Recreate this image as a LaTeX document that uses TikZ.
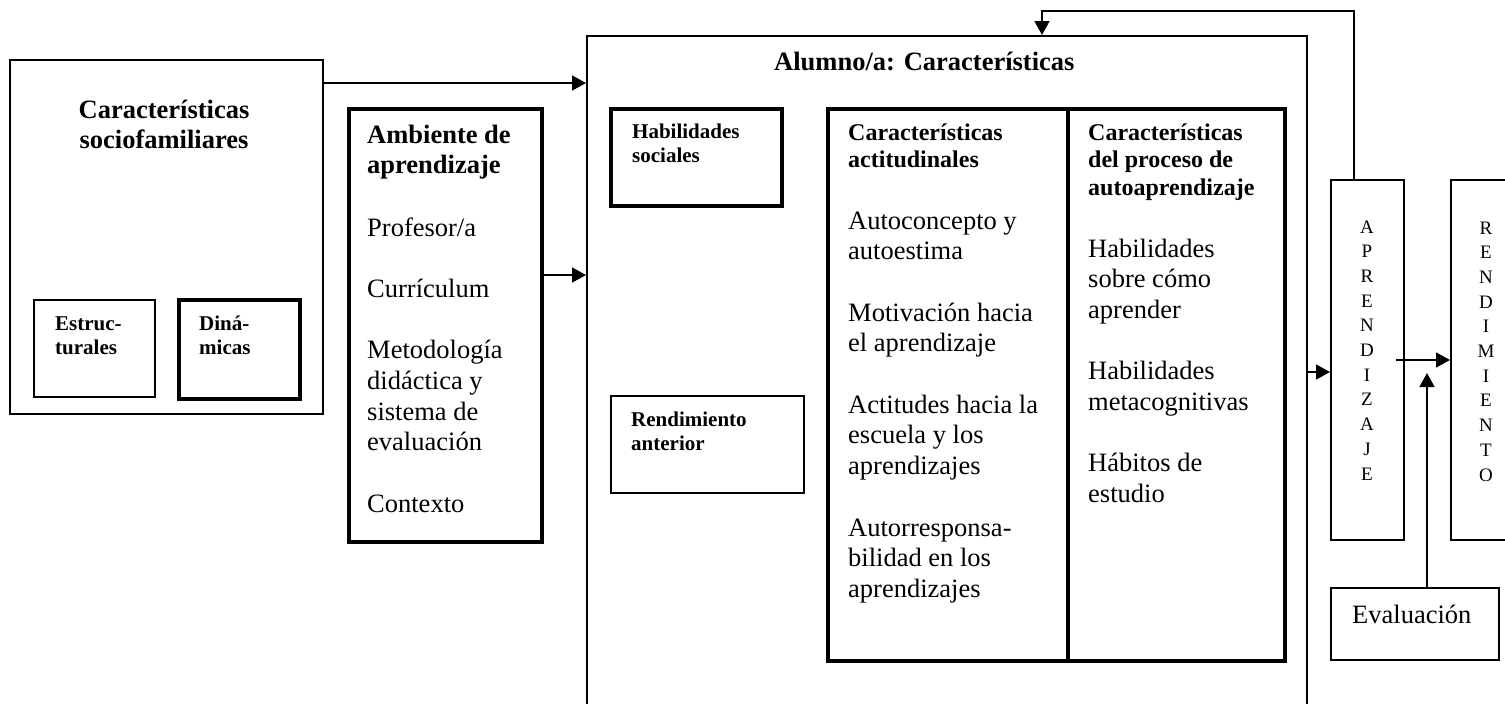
\documentclass[tikz,border=0pt]{standalone}
\usepackage{fontspec}
\setmainfont{Liberation Serif}
\usetikzlibrary{arrows.meta}
\newcommand{\tl}[1]{\begin{tabular}[t]{@{}l@{}}#1\end{tabular}}
\newcommand{\tc}[1]{\begin{tabular}[t]{@{}c@{}}#1\end{tabular}}
\tikzset{
  thinbox/.style={draw, line width=1.5pt, inner sep=0pt, anchor=north west},
  thickbox/.style={draw, line width=3.5pt, inner sep=0pt, anchor=north west},
  conn/.style={line width=1.5pt, -{Triangle[length=14pt,width=15pt]}},
  body/.style={anchor=base west, inner sep=0pt, font=\fontsize{26.5}{30.7}\selectfont},
  head/.style={anchor=base west, inner sep=0pt, font=\fontsize{26.5}{30}\selectfont\bfseries},
  colhead/.style={anchor=base west, inner sep=0pt, font=\fontsize{24}{27.5}\selectfont\bfseries},
  small/.style={anchor=base west, inner sep=0pt, font=\fontsize{21}{24.5}\selectfont\bfseries},
  vert/.style={anchor=base, inner sep=0pt, font=\fontsize{19}{24.7}\selectfont},
}
\begin{document}
\begin{tikzpicture}[x=1pt,y=-1pt]
\useasboundingbox (0,0) rectangle (1505,704);
% boxes
\node[thinbox, minimum width=313pt, minimum height=354pt] (left) at (9,59) {};
\node[thinbox, minimum width=121pt, minimum height=97pt] (estr) at (33,299) {};
\node[thickbox, minimum width=121pt, minimum height=99pt] (din) at (177,298) {};
\node[thickbox, minimum width=193pt, minimum height=433pt] (amb) at (347,107) {};
\node[thinbox, minimum width=720pt, minimum height=740pt] (alumno) at (586,35) {};
\node[thickbox, minimum width=171pt, minimum height=97pt] (habsoc) at (609,107) {};
\node[thinbox, minimum width=193pt, minimum height=97pt] (rendant) at (610,395) {};
\node[thickbox, minimum width=240pt, minimum height=552pt] (col1) at (826,107) {};
\node[thickbox, minimum width=217pt, minimum height=552pt] (col2) at (1066,107) {};
\node[thinbox, minimum width=73pt, minimum height=360pt] (ap) at (1330,179) {};
\node[thinbox, minimum width=70pt, minimum height=360pt] (rend) at (1450,179) {};
\node[thinbox, minimum width=168pt, minimum height=72pt] (eval) at (1330,587) {};
% texts
\node[head, anchor=base] (tleft) at (164,118) {\tc{Características\\sociofamiliares}};
\node[small] (testr) at (55,330) {\tl{Estruc-\\turales}};
\node[small] (tdin) at (199,330) {\tl{Diná-\\micas}};
\node[head] (tamb) at (367,143) {\tl{Ambiente de\\aprendizaje}};
\node[body] (tambb) at (367,236) {\tl{Profesor/a\\ \\Currículum\\ \\Metodología\\didáctica y\\sistema de\\evaluación\\ \\Contexto}};
\node[head] (talumno) at (774,70) {Alumno/a: Características};
\node[small] (thabsoc) at (632,138) {\tl{Habilidades\\sociales}};
\node[small] (trendant) at (631,426) {\tl{Rendimiento\\anterior}};
\node[colhead] (tcol1) at (848,140) {\tl{Características\\actitudinales}};
\node[body] (tcol1b) at (848,229) {\tl{Autoconcepto y\\autoestima\\ \\Motivación hacia\\el aprendizaje\\ \\Actitudes hacia la\\escuela y los\\aprendizajes\\ \\Autorresponsa-\\bilidad en los\\aprendizajes}};
\node[colhead] (tcol2) at (1088,140) {\tl{Características\\del proceso de\\autoaprendizaje}};
\node[body] (tcol2b) at (1088,257) {\tl{Habilidades\\sobre cómo\\aprender\\ \\Habilidades\\metacognitivas\\ \\Hábitos de\\estudio}};
\node[vert] (tap) at (1367,233) {\tc{A\\P\\R\\E\\N\\D\\I\\Z\\A\\J\\E}};
\node[vert] (trend) at (1486,234) {\tc{R\\E\\N\\D\\I\\M\\I\\E\\N\\T\\O}};
\node[body] (teval) at (1352,623) {Evaluación};
% connector helpers
\coordinate (y1) at (0,83);
\coordinate (y2) at (0,275);
\coordinate (y3) at (0,372);
\coordinate (y4) at (0,360);
\coordinate (s4) at (1396,360);
\coordinate (e5) at (1427,373);
\coordinate (fb1) at (1354,11);
\coordinate (fb2) at (1042,11);
% connectors
\draw[conn] (left.east |- y1) -- (alumno.west |- y1);
\draw[conn] (amb.east |- y2) -- (alumno.west |- y2);
\draw[conn] (alumno.east |- y3) -- (ap.west |- y3);
\draw[conn] (s4) -- (rend.west |- y4);
\draw[conn] (eval.north -| e5) -- (e5);
\draw[conn] (ap.north -| fb1) -- (fb1) -- (fb2) -- (alumno.north -| fb2);
\end{tikzpicture}
\end{document}
